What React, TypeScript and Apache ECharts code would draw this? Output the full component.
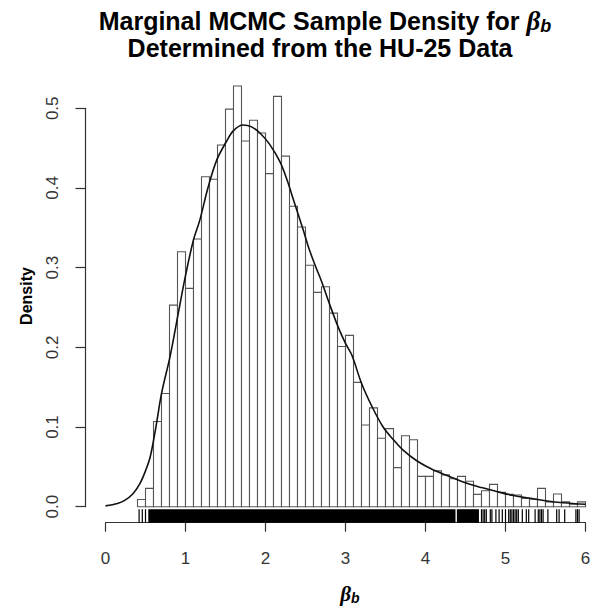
import { useEffect, useRef } from "react";
import * as echarts from "echarts";

// Histogram bins (left edge) and densities
const binStarts = [
  0.4, 0.5, 0.6, 0.7, 0.8, 0.9, 1.0, 1.1, 1.2, 1.3, 1.4, 1.5, 1.6, 1.7, 1.8, 1.9,
  2.0, 2.1, 2.2, 2.3, 2.4, 2.5, 2.6, 2.7, 2.8, 2.9, 3.0, 3.1, 3.2, 3.3, 3.4, 3.5,
  3.6, 3.7, 3.8, 3.9, 4.0, 4.1, 4.2, 4.3, 4.4, 4.5, 4.6, 4.7, 4.8, 4.9, 5.0, 5.1,
  5.2, 5.3, 5.4, 5.5, 5.6, 5.7, 5.8, 5.9,
];
const binDensity = [
  0.009, 0.023, 0.107, 0.142, 0.253, 0.32, 0.274, 0.336, 0.414, 0.411, 0.454, 0.499, 0.528, 0.459, 0.485, 0.469,
  0.418, 0.515, 0.44, 0.377, 0.351, 0.303, 0.269, 0.276, 0.243, 0.201, 0.215, 0.156, 0.1025, 0.124, 0.086, 0.098,
  0.049, 0.089, 0.084, 0.038, 0.038, 0.045, 0.04, 0.035, 0.038, 0.032, 0.0155, 0.02, 0.028, 0.018, 0.0155, 0.0147,
  0.0105, 0.0095, 0.023, 0.006, 0.016, 0.006, 0.003, 0.006,
];
const binWidth = 0.1;

// Kernel density curve
const kdeX = [
  0.0, 0.15, 0.24, 0.34, 0.43, 0.5, 0.56, 0.63, 0.7, 0.81, 0.91, 1.0, 1.1, 1.18, 1.28, 1.39,
  1.51, 1.6, 1.72, 1.82, 1.93, 2.05, 2.18, 2.27, 2.35, 2.47, 2.54, 2.62, 2.7, 2.78, 2.91, 3.0,
  3.08, 3.2, 3.33, 3.47, 3.6, 3.72, 3.9, 4.1, 4.3, 4.47, 4.7, 4.89, 5.1, 5.31, 5.5, 5.72, 6.0,
];
const kdeY = [
  0.001, 0.004, 0.008, 0.016, 0.029, 0.045, 0.063, 0.1, 0.142, 0.19, 0.243, 0.29, 0.335, 0.36, 0.4, 0.435,
  0.458, 0.472, 0.479, 0.477, 0.469, 0.455, 0.433, 0.41, 0.385, 0.348, 0.325, 0.303, 0.283, 0.26, 0.225, 0.205,
  0.19, 0.155, 0.126, 0.1, 0.084, 0.071, 0.057, 0.046, 0.038, 0.031, 0.024, 0.019, 0.014, 0.0105, 0.0075, 0.005, 0.003,
];

// Rug: dense solid stretches and isolated samples
const rugBlocks = [
  [0.535, 4.375],
  [4.392, 4.668],
];
const rugTicks = [
  0.42, 0.46, 0.5, 4.7, 4.72, 4.74, 4.76, 4.81, 4.83, 4.88, 4.92, 4.96, 5.0, 5.04, 5.06, 5.08,
  5.1, 5.12, 5.14, 5.16, 5.21, 5.26, 5.29, 5.37, 5.41, 5.43, 5.45, 5.47, 5.53, 5.64, 5.67, 5.74,
  5.88, 5.9, 5.92,
];

const xMin = 0;
const xMax = 6;
const xStep = 1;
const yMin = 0;
const yMax = 0.5;
const yStep = 0.1;

const titleLine1 = "Marginal MCMC Sample Density for ";
const titleLine2 = "Determined from the HU-25 Data";
const yLabel = "Density";
const greekBeta = "β";
const subB = "b";

const SANS = "'Liberation Sans', Arial, Helvetica, sans-serif";
const SERIF = "'Liberation Serif', 'DejaVu Serif', serif";

export default function App() {
  const ref = useRef<HTMLDivElement>(null);

  useEffect(() => {
    const chart = echarts.init(ref.current!, null, { renderer: "svg" });

    const histData = binStarts.map((b, i) => [b, +(b + binWidth).toFixed(2), binDensity[i]]);
    const kdeData = kdeX.map((x, i) => [x, kdeY[i]]);
    const rugBlockData = rugBlocks.map((r) => [r[0], r[1], 0]);
    const rugTickData = rugTicks.map((x) => [x, 0]);

    const betaRich = {
      beta: {
        fontFamily: SERIF,
        fontStyle: "italic",
        fontWeight: "bold",
        fontSize: 27,
        lineHeight: 24,
        fill: "#000",
        color: "#000",
      },
      sub: {
        fontFamily: SANS,
        fontStyle: "italic",
        fontWeight: "bold",
        fontSize: 18,
        lineHeight: 24,
        fill: "#000",
        color: "#000",
        padding: [10, 0, 0, 0],
      },
    };

    const option: any = {
      animation: false,
      backgroundColor: "#fff",
      grid: { left: 105.5, right: 10.5, top: 108.3, bottom: 101.3, containLabel: false },
      xAxis: {
        type: "value",
        min: xMin,
        max: xMax,
        interval: xStep,
        offset: 16,
        axisLine: { show: true, onZero: false, lineStyle: { color: "#333", width: 1.2 } },
        axisTick: { show: true, length: 9, lineStyle: { color: "#333", width: 1.2 } },
        axisLabel: {
          fontSize: 17,
          color: "#333",
          margin: 27,
          fontFamily: SANS,
          showMinLabel: true,
          showMaxLabel: true,
        },
        splitLine: { show: false },
      },
      yAxis: {
        type: "value",
        min: yMin,
        max: yMax,
        interval: yStep,
        offset: 20,
        axisLine: { show: true, onZero: false, lineStyle: { color: "#333", width: 1.2 } },
        axisTick: { show: true, length: 10, lineStyle: { color: "#333", width: 1.2 } },
        axisLabel: {
          rotate: 90,
          fontSize: 17,
          color: "#333",
          margin: 25,
          fontFamily: SANS,
          formatter: (v: number) => v.toFixed(1),
          showMinLabel: true,
          showMaxLabel: true,
        },
        splitLine: { show: false },
      },
      graphic: [
        {
          type: "text",
          x: 325,
          y: 21,
          style: {
            text: titleLine1 + "{beta|" + greekBeta + "}{sub|" + subB + "}",
            rich: betaRich,
            fontFamily: SANS,
            fontWeight: "bold",
            fontSize: 25,
            lineHeight: 24,
            fill: "#000",
            align: "center",
            verticalAlign: "middle",
          },
        },
        {
          type: "text",
          x: 320,
          y: 48,
          style: {
            text: titleLine2,
            fontFamily: SANS,
            fontWeight: "bold",
            fontSize: 25,
            lineHeight: 24,
            fill: "#000",
            align: "center",
            verticalAlign: "middle",
          },
        },
        {
          type: "text",
          x: 26,
          y: 296,
          rotation: Math.PI / 2,
          style: {
            text: yLabel,
            fontFamily: SANS,
            fontWeight: "bold",
            fontSize: 16,
            fill: "#000",
            align: "center",
            verticalAlign: "middle",
          },
        },
        {
          type: "text",
          x: 350,
          y: 594,
          style: {
            text: "{beta|" + greekBeta + "}{sub|" + subB + "}",
            rich: {
              beta: { ...betaRich.beta, fontSize: 21, lineHeight: 20 },
              sub: { ...betaRich.sub, fontSize: 14, lineHeight: 16, padding: [7, 0, 0, 0] },
            },
            fill: "#000",
            align: "center",
            verticalAlign: "middle",
          },
        },
      ],
      series: [
        {
          type: "custom",
          name: "histogram",
          clip: false,
          data: histData,
          encode: { x: [0, 1], y: 2 },
          renderItem: (params: any, api: any) => {
            const p0 = api.coord([api.value(0), api.value(2)]);
            const p1 = api.coord([api.value(1), 0]);
            return {
              type: "rect",
              shape: { x: p0[0], y: p0[1], width: p1[0] - p0[0], height: p1[1] - p0[1] },
              style: { fill: "#fff", stroke: "#555", lineWidth: 1.1 },
            };
          },
        },
        {
          type: "line",
          name: "density",
          data: kdeData,
          smooth: 0.35,
          showSymbol: false,
          symbol: "none",
          lineStyle: { color: "#111", width: 1.6 },
          z: 5,
        },
        {
          type: "custom",
          name: "rugBlocks",
          clip: false,
          data: rugBlockData,
          encode: { x: [0, 1], y: 2 },
          renderItem: (params: any, api: any) => {
            const a = api.coord([api.value(0), 0]);
            const b = api.coord([api.value(1), 0]);
            return {
              type: "rect",
              shape: { x: a[0], y: a[1] + 2.5, width: b[0] - a[0], height: 13.5 },
              style: { fill: "#000" },
            };
          },
        },
        {
          type: "custom",
          name: "rugTicks",
          clip: false,
          data: rugTickData,
          encode: { x: 0, y: 1 },
          renderItem: (params: any, api: any) => {
            const a = api.coord([api.value(0), 0]);
            return {
              type: "line",
              shape: { x1: a[0], y1: a[1] + 2.5, x2: a[0], y2: a[1] + 16 },
              style: { stroke: "#000", lineWidth: 1.2 },
            };
          },
        },
      ],
    };

    chart.setOption(option);
    return () => chart.dispose();
  }, []);

  return (
    <div
      ref={ref}
      style={{ position: "fixed", left: 0, top: 0, width: 596, height: 608, background: "#fff" }}
    />
  );
}
